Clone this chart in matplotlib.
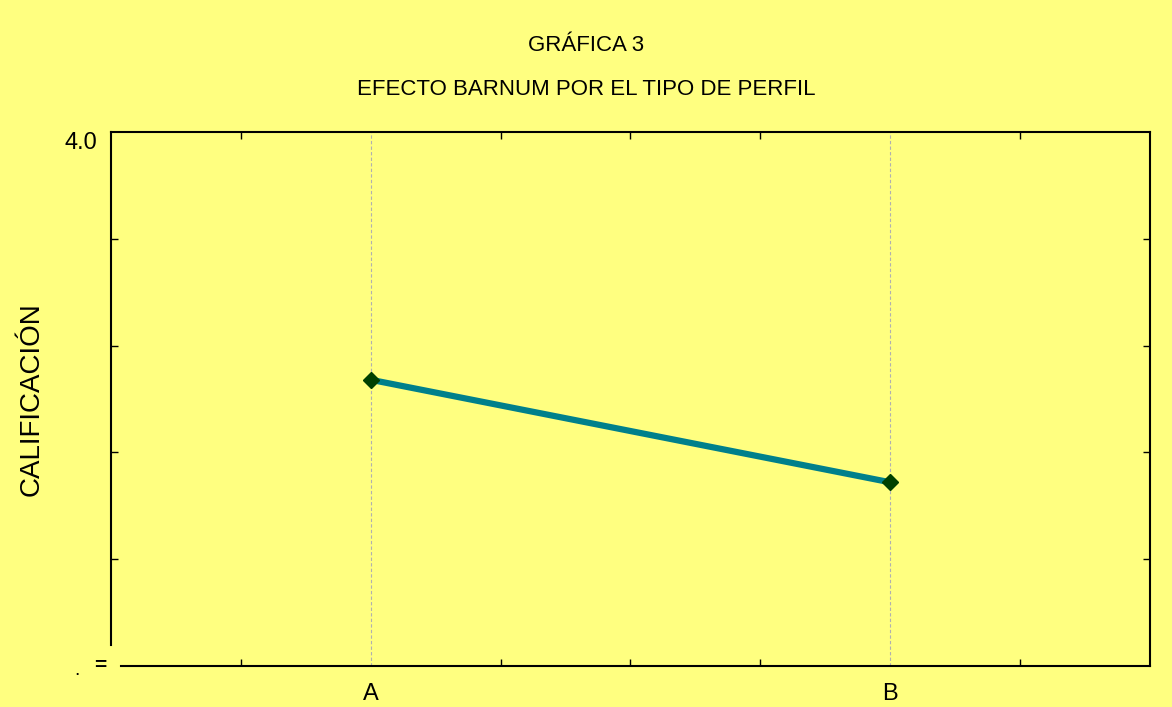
import matplotlib
matplotlib.use("Agg")
import matplotlib.pyplot as plt
from matplotlib import font_manager

# ---- DATA ----
categories = ["A", "B"]
cat_pos = [2, 6]
scores = [2.84, 2.36]
minor_x = [1, 3, 4, 5, 7]
y_min, y_max = 1.5, 4.0
y_minor = [2.0, 2.5, 3.0, 3.5]

# ---- STYLE ----
BG = "#ffff80"
LINE_COLOR = "#00808b"
MARKER_COLOR = "#004000"

names = {f.name for f in font_manager.fontManager.ttflist}
family = ["Liberation Sans Narrow", "Liberation Sans", "DejaVu Sans"]
family = [f for f in family if f in names] or ["DejaVu Sans"]
plt.rcParams["font.family"] = family

fig = plt.figure(figsize=(11.72, 7.07), dpi=100, facecolor=BG)
ax = fig.add_axes([0.0947, 0.058, 0.8865, 0.7553], facecolor=BG)

ax.plot(cat_pos, scores, color=LINE_COLOR, lw=4.5, zorder=3,
        marker="D", markersize=8, markerfacecolor=MARKER_COLOR,
        markeredgecolor=MARKER_COLOR)

ax.set_xlim(0, 8)
ax.set_ylim(y_min, y_max)

ax.set_xticks(cat_pos)
ax.set_xticklabels(categories, fontsize=17)
ax.set_xticks(minor_x, minor=True)
ax.set_yticks([y_max])
ax.set_yticklabels(["4.0"], fontsize=17)
ax.set_yticks(y_minor, minor=True)

ax.tick_params(axis="both", which="both", direction="in", top=True, right=True,
               width=1, color="black")
ax.tick_params(axis="both", which="minor", length=5)
ax.tick_params(axis="x", which="major", length=0, pad=12)
ax.tick_params(axis="y", which="major", length=0, pad=10)
for lab in ax.get_yticklabels():
    lab.set_verticalalignment("top")

ax.grid(axis="x", which="major", color="#b0b0b0", linestyle=(0, (3, 2)), lw=0.8)

for s in ax.spines.values():
    s.set_linewidth(1.5)
# broken-axis look at the lower left corner
ax.spines["left"].set_bounds(1.598, y_max)
ax.spines["bottom"].set_bounds(0.077, 8)
ax.text(-0.08, 1.5, "=", fontsize=15, ha="center", va="center",
        fontweight="bold")
ax.text(-0.26, 1.48, ".", fontsize=14, ha="center", va="center")

ax.set_ylabel("CALIFICACIÓN", fontsize=20, labelpad=14)

fig.text(0.5, 0.935, "GRÁFICA 3", ha="center", va="center", fontsize=16)
fig.text(0.5, 0.874, "EFECTO BARNUM POR EL TIPO DE PERFIL", ha="center",
         va="center", fontsize=16)

fig.savefig("out.png", dpi=100, facecolor=BG)
